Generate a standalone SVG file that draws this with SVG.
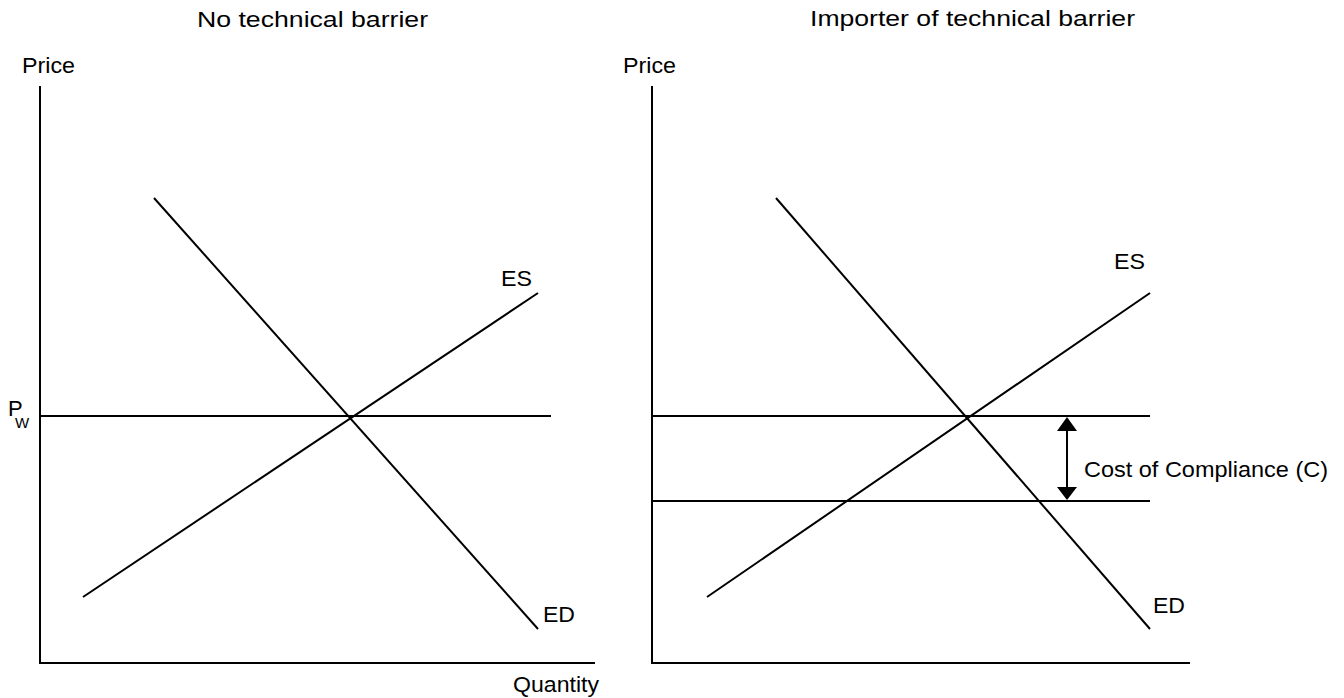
<svg xmlns="http://www.w3.org/2000/svg" width="1344" height="698" viewBox="0 0 1344 698">
<style>
  .ln { stroke: #000; stroke-width: 2; fill: none; }
  .t { font-family: "Liberation Sans", Arial, sans-serif; font-size: 22px; fill: #000; }
  .sub { font-family: "Liberation Sans", Arial, sans-serif; font-size: 15px; fill: #000; }
</style>
<rect width="1344" height="698" fill="#fff"/>
<g id="left-panel">
  <text class="t" x="197" y="27" textLength="231" lengthAdjust="spacingAndGlyphs">No technical barrier</text>
  <text class="t" x="22" y="73" textLength="53" lengthAdjust="spacingAndGlyphs">Price</text>
  <text class="t" x="513" y="692" textLength="86" lengthAdjust="spacingAndGlyphs">Quantity</text>
  <text class="t" x="8" y="416">P</text>
  <text class="sub" x="15" y="428">W</text>
  <text class="t" x="501" y="286" textLength="31" lengthAdjust="spacingAndGlyphs">ES</text>
  <text class="t" x="543" y="622" textLength="32" lengthAdjust="spacingAndGlyphs">ED</text>
</g>
<g id="right-panel">
  <text class="t" x="810" y="26" textLength="325" lengthAdjust="spacingAndGlyphs">Importer of technical barrier</text>
  <text class="t" x="623" y="73" textLength="53" lengthAdjust="spacingAndGlyphs">Price</text>
  <text class="t" x="1114" y="269" textLength="31" lengthAdjust="spacingAndGlyphs">ES</text>
  <text class="t" x="1153" y="613" textLength="32" lengthAdjust="spacingAndGlyphs">ED</text>
  <text class="t" x="1084" y="477" textLength="244" lengthAdjust="spacingAndGlyphs">Cost of Compliance (C)</text>
</g>
<g id="connectors">
  <!-- left axes and curves -->
  <polyline class="ln" points="40,86 40,663 595,663"/>
  <line class="ln" x1="40" y1="416" x2="551" y2="416"/>
  <line class="ln" x1="83" y1="597" x2="538" y2="293"/>
  <line class="ln" x1="154" y1="198" x2="538" y2="629"/>
  <!-- right axes and curves -->
  <polyline class="ln" points="652,86 652,663 1190,663"/>
  <line class="ln" x1="652" y1="416" x2="1150" y2="416"/>
  <line class="ln" x1="652" y1="501" x2="1150" y2="501"/>
  <line class="ln" x1="707" y1="597" x2="1150" y2="293"/>
  <line class="ln" x1="776" y1="198" x2="1150" y2="629"/>
  <!-- cost of compliance arrow -->
  <line class="ln" x1="1067" y1="428" x2="1067" y2="489"/>
  <polygon points="1067,417 1057,431 1077,431" fill="#000"/>
  <polygon points="1067,500 1057,487 1077,487" fill="#000"/>
</g>
</svg>
